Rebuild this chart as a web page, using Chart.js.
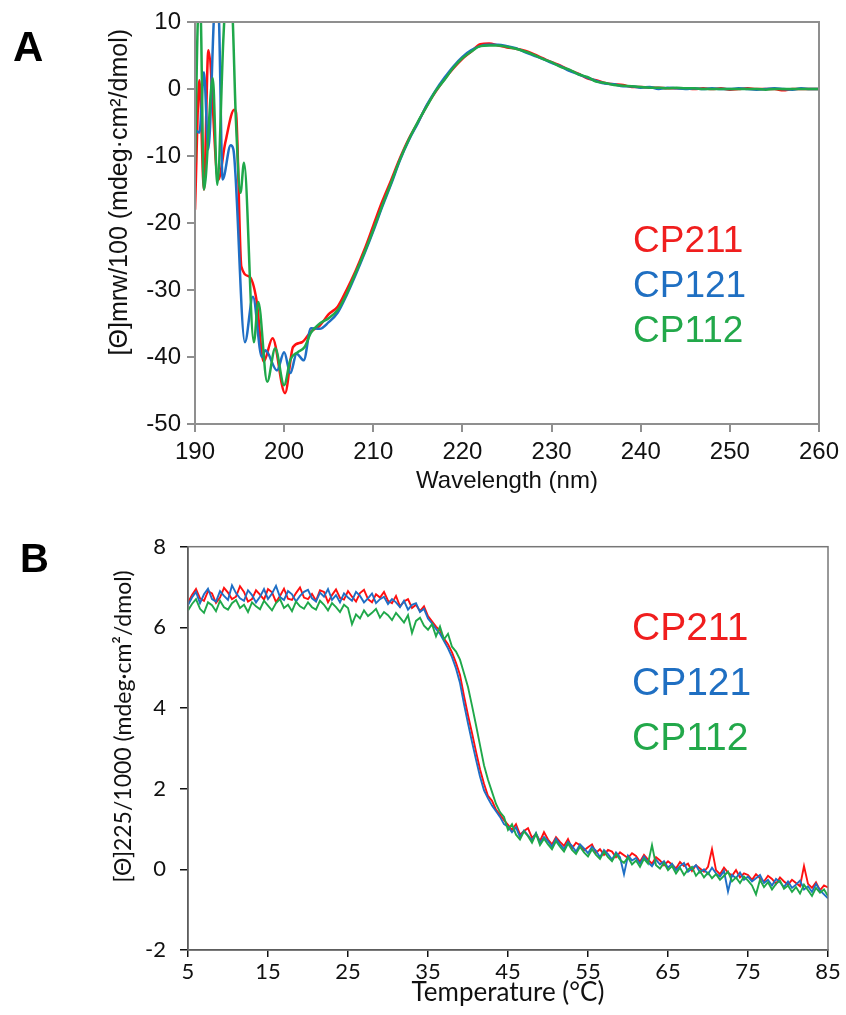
<!DOCTYPE html>
<html>
<head>
<meta charset="utf-8">
<script src="https://cdn.jsdelivr.net/npm/chart.js@4.4.0/dist/chart.umd.min.js"></script>
<style>
  html, body { margin: 0; padding: 0; background: #fff; }
  body { width: 846px; height: 1015px; position: relative; overflow: hidden; }
  canvas { position: absolute; left: 0; }
  .lbl { position: absolute; font-family: "Liberation Sans", Arial, sans-serif; white-space: nowrap; }
  .panel { font-weight: bold; color: #000; line-height: 1; }
</style>
</head>
<body>
<canvas id="chartA" width="846" height="500" style="top:0;width:846px;height:500px"></canvas>
<canvas id="chartB" width="846" height="515" style="top:500px;width:846px;height:515px"></canvas>

<div class="lbl panel" style="left:13px;top:26px;font-size:42px">A</div>
<div class="lbl panel" style="left:20px;top:538px;font-size:40px">B</div>

<div class="lbl" style="left:633px;top:217px;font-size:37px;line-height:45px">
  <div style="color:#f01e1e">CP211</div>
  <div style="color:#1f6fc2">CP121</div>
  <div style="color:#22a84a">CP112</div>
</div>
<div class="lbl" style="left:632px;top:599px;font-size:39px;line-height:55px">
  <div style="color:#f01e1e">CP211</div>
  <div style="color:#1f6fc2">CP121</div>
  <div style="color:#22a84a">CP112</div>
</div>

<script>
// ---------------- Panel A : CD spectra ----------------
const seriesNames = ["CP211", "CP121", "CP112"];
const seriesColors = ["#ff1010", "#1f6fc5", "#1fa84a"];

// noisy far-UV region (wavelength nm, value) per series
const redWlLow   = [190.0, 190.5, 191.0, 191.5, 192.6, 193.4, 194.4, 194.6, 195.2, 196.1, 196.9, 197.7, 198.7, 200.1, 201.0, 202.0];
const redCdLow   = [-18,   1.3,  -15,   5.8,  -13.6, -8,    -3.1,  -3.5,  -26.5, -28,   -31.5, -40.7, -37.2, -45.4, -38.5, -37.8];
const blueWlLow  = [190.0, 190.5, 191.0, 191.5, 192.1, 192.4, 192.7, 193.1, 194.0, 194.3, 195.6, 196.5, 197.5, 197.9, 199.2, 200.0, 200.7, 201.4, 202.2];
const blueCdLow  = [-6.1,  -6.5,  2.5,   -9,    10,    18,    10,    -13.5, -8.4,  -9,    -37.8, -31,   -40,   -39,   -42,   -39.3, -42.4, -39.5, -40.5];
const greenWlLow = [190.0, 190.4, 190.6, 191.0, 192.0, 192.5, 193.2, 193.6, 194.1, 194.6, 195.1, 195.5, 196.6, 197.1, 198.1, 199.0, 200.0, 200.7, 201.5, 202.3];
const greenCdLow = [-11,   12,    12,    -15,   1.6,   -14.3, 8,     16,    14,    -5,    -15.5, -11,   -37.8, -31.8, -43.7, -38.7, -44.2, -40.4, -39.3, -38.5];

// 203-260 nm at 1 nm
const wlMain = [203,204,205,206,207,208,209,210,211,212,213,214,215,216,217,218,219,220,221,222,223,224,225,226,227,228,229,230,231,232,233,234,235,236,237,238,239,240,241,242,243,244,245,246,247,248,249,250,251,252,253,254,255,256,257,258,259,260];
const redCdMain = [-36.2,-35.3,-33.6,-32.5,-30.0,-27.2,-24.0,-20.4,-16.8,-13.6,-10.3,-7.4,-5.0,-2.5,-0.4,1.5,3.1,4.5,5.6,6.7,6.8,6.5,6.2,6.0,5.7,5.2,4.6,4.0,3.5,2.8,2.3,1.6,1.3,0.9,0.7,0.6,0.3,0.3,0.2,0.2,0.1,0.1,0.1,0.0,0.1,0.0,0.1,-0.1,0.0,0.1,0.0,0.0,0.0,-0.2,0.0,0.0,0.0,0.0];
const blueCdMain = [-35.7,-35.8,-34.8,-33.4,-30.8,-27.8,-24.6,-21.2,-17.6,-14.2,-10.6,-7.6,-5.1,-2.4,-0.2,1.7,3.4,4.8,5.8,6.4,6.6,6.6,6.4,6.1,5.5,5.0,4.5,3.9,3.4,2.7,2.2,1.7,1.2,0.8,0.7,0.4,0.4,0.2,0.3,0.0,0.2,0.1,0.0,0.1,0.0,0.1,0.0,0.0,0.1,0.0,-0.1,0.0,0.1,0.0,-0.1,0.1,0.0,0.0];
const greenCdMain = [-36.4,-35.0,-34.2,-33.0,-30.6,-27.5,-24.4,-21.0,-17.4,-14.0,-10.5,-7.5,-4.9,-2.6,-0.3,1.4,3.2,4.6,5.6,6.4,6.5,6.5,6.3,6.0,5.6,5.1,4.5,4.0,3.3,2.9,2.2,1.8,1.1,0.9,0.6,0.5,0.4,0.3,0.2,0.2,0.1,0.2,0.1,0.1,0.0,0.0,0.0,0.0,0.0,0.0,0.0,-0.1,0.0,0.0,0.0,0.0,0.0,0.0];

const wlTicks = { min: 190, max: 260, step: 10 };
const cdTicks = { min: -50, max: 10, step: 10 };

// ---------------- Panel B : thermal melt (5-85 °C every 0.5 °C) ----------------
const tempStart = 5, tempStep = 0.5;
const meltRed = [
 6.62,6.80,6.95,6.72,6.66,6.90,6.84,6.61,6.74,6.98,
 6.86,6.70,6.76,7.02,6.88,6.64,6.70,6.92,6.81,6.69,
 6.95,6.87,6.63,6.78,6.96,6.71,6.68,6.85,6.99,6.74,
 6.70,6.83,6.66,6.92,6.88,6.62,6.80,6.94,6.73,6.69,
 6.90,6.76,6.64,6.85,6.93,6.70,6.62,6.82,6.74,6.88,
 6.66,6.60,6.78,6.52,6.64,6.70,6.48,6.56,6.40,6.52,
 6.28,6.15,6.02,5.92,5.72,5.58,5.38,5.12,4.82,4.30,
 3.82,3.38,2.92,2.48,2.12,1.82,1.70,1.48,1.36,1.22,
 1.10,0.98,1.12,0.86,0.95,1.02,0.78,0.88,0.70,0.92,
 0.74,0.62,0.80,0.68,0.58,0.75,0.52,0.66,0.60,0.47,
 0.55,0.62,0.41,0.50,0.36,0.48,0.44,0.30,0.42,0.35,
 0.28,0.40,0.33,0.19,0.36,0.24,0.14,0.30,0.22,0.10,
 0.20,0.12,0.02,0.18,0.08,0.14,-0.04,0.10,0.02,-0.06,
 0.06,0.50,-0.02,-0.12,0.04,-0.08,-0.16,-0.02,-0.20,-0.10,
 -0.14,-0.26,-0.12,-0.22,-0.30,-0.16,-0.24,-0.36,-0.20,-0.30,
 -0.38,-0.26,-0.34,-0.42,0.08,-0.36,-0.46,-0.32,-0.52,-0.40,
 -0.45];
const meltBlue = [
 6.55,6.74,6.88,6.60,6.82,6.96,6.70,6.64,6.90,6.78,
 6.68,7.04,6.85,6.72,6.66,6.92,6.80,6.62,6.76,6.95,
 6.70,6.84,7.03,6.75,6.68,6.90,6.82,6.64,6.78,6.88,
 6.93,6.72,6.64,6.86,6.76,6.95,6.68,6.80,6.62,6.84,
 6.74,6.66,6.88,6.78,6.62,6.72,6.84,6.60,6.70,6.76,
 6.58,6.70,6.62,6.50,6.66,6.44,6.56,6.60,6.38,6.46,
 6.22,6.10,5.96,5.84,5.66,5.48,5.26,4.98,4.62,4.10,
 3.62,3.16,2.72,2.30,1.96,1.76,1.58,1.44,1.30,1.12,
 1.06,0.92,1.04,0.80,0.96,0.84,0.72,0.90,0.66,0.80,
 0.70,0.56,0.76,0.62,0.50,0.68,0.58,0.44,0.62,0.52,
 0.40,0.56,0.46,0.30,0.48,0.38,0.24,0.42,0.30,-0.12,
 0.34,0.22,0.28,0.14,0.32,0.18,0.08,0.24,0.12,0.20,
 0.04,0.14,-0.02,0.08,0.16,-0.06,0.02,0.10,-0.08,0.00,
 -0.12,0.04,-0.10,-0.18,-0.04,-0.55,-0.14,-0.22,-0.08,-0.26,
 -0.18,-0.30,-0.22,-0.14,-0.34,-0.26,-0.40,-0.24,-0.32,-0.44,
 -0.30,-0.46,-0.38,-0.28,-0.50,-0.42,-0.56,-0.36,-0.52,-0.62,
 -0.72];
const meltGreen = [
 6.42,6.58,6.70,6.46,6.36,6.62,6.55,6.40,6.66,6.50,
 6.44,6.60,6.68,6.48,6.56,6.38,6.62,6.52,6.45,6.66,
 6.54,6.42,6.60,6.70,6.48,6.56,6.40,6.64,6.52,6.46,
 6.62,6.50,6.44,6.66,6.56,6.42,6.60,6.50,6.38,6.56,
 6.48,6.08,6.32,6.22,6.42,6.28,6.36,6.46,6.24,6.38,
 6.30,6.18,6.36,6.24,6.12,6.30,5.86,6.16,6.24,6.04,
 5.94,6.08,5.78,6.02,5.70,5.84,5.52,5.40,5.20,4.86,
 4.52,4.06,3.58,3.08,2.58,2.22,1.92,1.62,1.42,1.30,
 0.98,1.12,0.86,0.74,0.94,0.82,0.66,0.88,0.60,0.76,
 0.62,0.50,0.70,0.56,0.44,0.64,0.48,0.38,0.56,0.42,
 0.32,0.50,0.36,0.26,0.44,0.30,0.20,0.38,0.24,0.16,
 0.30,0.12,0.22,0.06,0.26,0.14,0.60,0.10,0.02,0.16,
 -0.02,0.08,-0.10,0.04,-0.14,0.00,0.06,-0.16,-0.04,-0.20,
 -0.08,-0.22,-0.12,-0.26,-0.16,-0.06,-0.30,-0.20,-0.34,-0.18,
 -0.28,-0.40,-0.62,-0.26,-0.44,-0.32,-0.50,-0.36,-0.28,-0.48,
 -0.40,-0.56,-0.44,-0.60,-0.38,-0.52,-0.66,-0.46,-0.58,-0.50,
 -0.66];
const tempTicks = { min: 5, max: 85, step: 10 };
const meltTicks = { min: -2, max: 8, step: 2 };

// ---------------- build ----------------
function pts(xs, ys) { return xs.map((x, i) => ({ x: x, y: ys[i] })); }
const specRed = pts(redWlLow.concat(wlMain), redCdLow.concat(redCdMain));
const specBlue = pts(blueWlLow.concat(wlMain), blueCdLow.concat(blueCdMain));
const specGreen = pts(greenWlLow.concat(wlMain), greenCdLow.concat(greenCdMain));
const temps = meltRed.map((_, i) => tempStart + i * tempStep);

const frame = (color, width) => ({
  id: 'frame',
  afterDatasetsDraw(chart) {
    const a = chart.chartArea, c = chart.ctx;
    c.save();
    c.strokeStyle = color; c.lineWidth = width;
    c.strokeRect(a.left, a.top, a.right - a.left, a.bottom - a.top);
    c.restore();
  }
});

const arial = '"Liberation Sans", Arial, sans-serif';
const grayA = '#8f8f8f';

new Chart(document.getElementById('chartA'), {
  type: 'line',
  data: {
    datasets: [
      { label: seriesNames[0], data: specRed, borderColor: seriesColors[0], order: 2 },
      { label: seriesNames[1], data: specBlue, borderColor: seriesColors[1], order: 1 },
      { label: seriesNames[2], data: specGreen, borderColor: seriesColors[2], order: 0 }
    ].map(d => Object.assign(d, { borderWidth: 2.5, pointRadius: 0, fill: false, cubicInterpolationMode: 'monotone' }))
  },
  options: {
    responsive: false, animation: false, devicePixelRatio: 1,
    layout: { padding: { left: 105.6, top: 22, right: 27, bottom: 4.6 } },
    plugins: { legend: { display: false }, tooltip: { enabled: false } },
    scales: {
      x: {
        type: 'linear', min: wlTicks.min, max: wlTicks.max,
        afterFit: s => { s.height = 71.4; },
        ticks: { stepSize: wlTicks.step, color: '#111', font: { family: arial, size: 24 }, padding: 6, maxRotation: 0, autoSkip: false },
        grid: { drawOnChartArea: false, tickLength: 8, color: grayA, lineWidth: 2 },
        border: { color: grayA, width: 2 },
        title: { display: true, text: 'Wavelength (nm)', color: '#111', font: { family: arial, size: 24 }, padding: 0 }
      },
      y: {
        type: 'linear', min: cdTicks.min, max: cdTicks.max,
        afterFit: s => { s.width = 89.4; },
        ticks: { stepSize: cdTicks.step, color: '#111', font: { family: arial, size: 24 }, padding: 6, autoSkip: false },
        grid: { drawOnChartArea: false, tickLength: 8, color: grayA, lineWidth: 2 },
        border: { color: grayA, width: 2 },
        title: { display: true, align: 'end', text: '[Θ]mrw/100 (mdeg·cm²/dmol) ', color: '#111', font: { family: arial, size: 25 }, padding: 0 }
      }
    }
  },
  plugins: [frame(grayA, 2)]
});

const lato = 'Lato, "Open Sans", sans-serif';
new Chart(document.getElementById('chartB'), {
  type: 'line',
  data: {
    datasets: [
      { label: seriesNames[0], data: pts(temps, meltRed), borderColor: seriesColors[0], order: 2 },
      { label: seriesNames[1], data: pts(temps, meltBlue), borderColor: seriesColors[1], order: 1 },
      { label: seriesNames[2], data: pts(temps, meltGreen), borderColor: seriesColors[2], order: 0 }
    ].map(d => Object.assign(d, { borderWidth: 1.9, pointRadius: 0, fill: false, tension: 0 }))
  },
  options: {
    responsive: false, animation: false, devicePixelRatio: 1,
    layout: { padding: { left: 109.6, top: 46.7, right: 18, bottom: 6.4 } },
    plugins: { legend: { display: false }, tooltip: { enabled: false } },
    scales: {
      x: {
        type: 'linear', min: tempTicks.min, max: tempTicks.max,
        afterFit: s => { s.height = 58.6; },
        ticks: { stepSize: tempTicks.step, color: '#111', font: { family: lato, size: 22 }, padding: 2, maxRotation: 0, autoSkip: false },
        grid: { drawOnChartArea: false, tickLength: 7, color: '#111', lineWidth: 1.5 },
        border: { color: '#111', width: 1.5 },
        title: { display: true, text: 'Temperature (°C)', color: '#111', font: { family: lato, size: 26 }, padding: 0 }
      },
      y: {
        type: 'linear', min: meltTicks.min, max: meltTicks.max,
        afterFit: s => { s.width = 78.4; },
        ticks: { stepSize: meltTicks.step, color: '#111', font: { family: lato, size: 22 }, padding: 14, autoSkip: false },
        grid: { drawOnChartArea: false, tickLength: 8, color: '#111', lineWidth: 1.5 },
        border: { color: '#111', width: 1.5 },
        title: { display: true, align: 'end', text: '[Θ]225/1000 (mdeg·cm²/dmol)    ', color: '#111', font: { family: lato, size: 23 }, padding: 0 }
      }
    }
  },
  plugins: [frame('#777', 1.5)]
});
</script>
</body>
</html>
